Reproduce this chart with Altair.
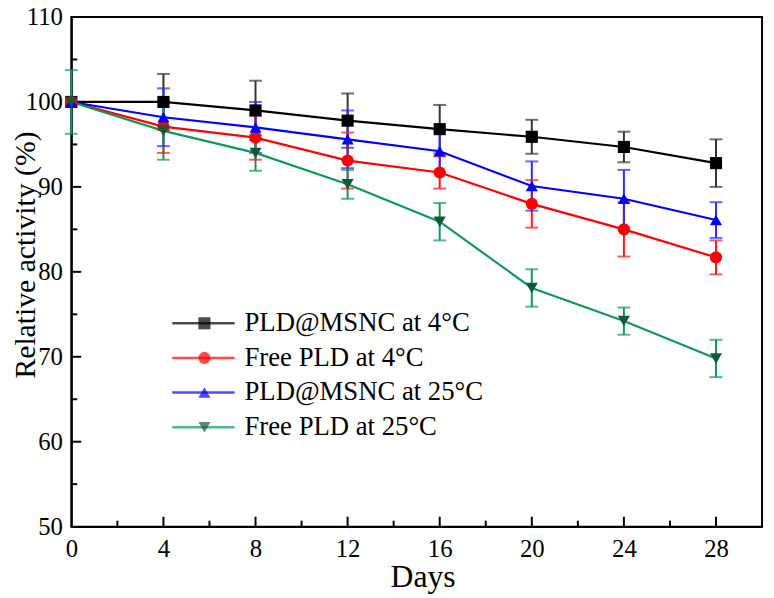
import altair as alt
import pandas as pd

# ---------------- data ----------------
days = [0, 4, 8, 12, 16, 20, 24, 28]
series = ["PLD@MSNC at 4°C", "Free PLD at 4°C", "PLD@MSNC at 25°C", "Free PLD at 25°C"]

msnc_4 = [100.0, 100.0, 99.0, 97.8, 96.8, 95.9, 94.7, 92.8]
msnc_4_err = [0.0, 3.3, 3.5, 3.2, 2.85, 2.0, 1.8, 2.8]
free_4 = [100.0, 97.1, 95.8, 93.1, 91.7, 88.0, 85.0, 81.7]
free_4_err = [0.0, 3.1, 2.6, 3.3, 1.9, 2.8, 3.2, 2.0]
msnc_25 = [100.0, 98.2, 97.0, 95.6, 94.2, 90.1, 88.6, 86.1]
msnc_25_err = [0.0, 3.4, 3.0, 3.4, 2.5, 2.9, 3.4, 2.1]
free_25 = [100.0, 96.6, 94.0, 90.3, 85.9, 78.1, 74.2, 69.8]
free_25_err = [3.75, 3.4, 2.1, 1.7, 2.2, 2.2, 1.6, 2.2]

x_labels = [0, 4, 8, 12, 16, 20, 24, 28]
x_minor = [2, 6, 10, 14, 18, 22, 26]
y_labels = [50, 60, 70, 80, 90, 100, 110]
y_major_inner = [60, 70, 80, 90, 100]
y_minor = [55, 65, 75, 85, 95, 105]

line_colors = ["#000000", "#ff0000", "#0000ff", "#10985a"]
marker_colors = ["#000000", "#ff0000", "#0000ff", "#14583a"]
err_colors = ["#333333", "#ff1a1a", "#2a2aff", "#10985a"]
shapes = ["square", "circle", "triangle-up", "triangle-down"]

# ---------------- table ----------------
vals = [msnc_4, free_4, msnc_25, free_25]
errs = [msnc_4_err, free_4_err, msnc_25_err, free_25_err]
rows = []
for name, v, e in zip(series, vals, errs):
    for d, yv, ev in zip(days, v, e):
        rows.append({"series": name, "day": d, "val": yv, "err": ev,
                     "lo": yv - ev, "hi": yv + ev})
df = pd.DataFrame(rows)
df_err = df[df["err"] > 0]

FONT = "Liberation Serif"
W, H = 698, 515

xs = alt.Scale(domain=[0, 30], nice=False, zero=False)
ys = alt.Scale(domain=[50, 110], nice=False, zero=False)

xaxis = alt.Axis(values=x_labels, ticks=False, grid=False, domainColor="black",
                 domainWidth=2, labelFont=FONT, labelFontSize=25, labelColor="black",
                 labelPadding=10, title="Days", titleFont=FONT, titleFontSize=32,
                 titleFontWeight="normal", titleColor="black",
                 titleBaseline="alphabetic", titleX=355, titleY=61,
                 labelFlush=False)
yaxis = alt.Axis(values=y_labels, ticks=False, grid=False, domainColor="black",
                 domainWidth=2, labelFont=FONT, labelFontSize=25, labelColor="black",
                 labelPadding=9, title="Relative activity (%)", titleFont=FONT,
                 titleFontSize=30, titleFontWeight="normal", titleColor="black",
                 titleBaseline="middle", titleAngle=270, titleX=-46, titleY=240,
                 labelFlush=False)

X = alt.X("day:Q", scale=xs, axis=xaxis)


def cscale(colors):
    return alt.Scale(domain=series, range=colors)


bars = alt.Chart(df_err).mark_rule(strokeWidth=2).encode(
    x=X, y=alt.Y("lo:Q", scale=ys, axis=yaxis), y2="hi:Q",
    color=alt.Color("series:N", scale=cscale(err_colors), legend=None))
cap_lo = alt.Chart(df_err).mark_tick(orient="horizontal", size=13, thickness=2).encode(
    x=X, y=alt.Y("lo:Q", scale=ys, axis=yaxis),
    color=alt.Color("series:N", scale=cscale(err_colors), legend=None))
cap_hi = alt.Chart(df_err).mark_tick(orient="horizontal", size=13, thickness=2).encode(
    x=X, y=alt.Y("hi:Q", scale=ys, axis=yaxis),
    color=alt.Color("series:N", scale=cscale(err_colors), legend=None))

lines = alt.Chart(df).mark_line(strokeWidth=2.2).encode(
    x=X, y=alt.Y("val:Q", scale=ys, axis=yaxis),
    color=alt.Color("series:N", scale=cscale(line_colors), legend=None))

points = alt.Chart(df).mark_point(filled=True, size=150, opacity=1).encode(
    x=X, y=alt.Y("val:Q", scale=ys, axis=yaxis),
    color=alt.Color("series:N", scale=cscale(marker_colors), legend=None),
    shape=alt.Shape("series:N", scale=alt.Scale(domain=series, range=shapes), legend=None))

# legend: line part + marker part, overlaid
LX, LY = 94, 296
line_path = "M-6.3,-0.25H6.3V0.25H-6.3Z"
leg_common = dict(orient="none", legendX=LX, legendY=LY, title=None, padding=0,
                  labelFont=FONT, labelFontSize=27, rowPadding=7, labelLimit=400,
                  labelOffset=28)
leg_lines = alt.Chart(df).transform_filter("false").mark_point(filled=True, size=100).encode(
    color=alt.Color("series:N", scale=cscale(line_colors),
                    legend=alt.Legend(symbolType=line_path, symbolSize=100,
                                      symbolOffset=26, labelColor="black", **leg_common)))
leg_marks = alt.Chart(df).transform_filter("false").mark_point(filled=True, size=150).encode(
    color=alt.Color("series:N", scale=cscale(marker_colors),
                    legend=alt.Legend(symbolSize=150, symbolOffset=27, labelOpacity=0,
                                      **leg_common)),
    shape=alt.Shape("series:N", scale=alt.Scale(domain=series, range=shapes),
                    legend=alt.Legend(symbolSize=150, symbolOffset=27, labelOpacity=0,
                                      **leg_common)))

# inward ticks
ymaj = alt.Chart(pd.DataFrame({"v": y_major_inner})).mark_rule(color="black", strokeWidth=2).encode(
    y=alt.Y("v:Q", scale=ys, axis=yaxis), x=alt.value(0), x2=alt.value(10))
ymin = alt.Chart(pd.DataFrame({"v": y_minor})).mark_rule(color="black", strokeWidth=2).encode(
    y=alt.Y("v:Q", scale=ys, axis=yaxis), x=alt.value(0), x2=alt.value(6))
xmaj = alt.Chart(pd.DataFrame({"v": x_labels[1:]})).mark_rule(color="black", strokeWidth=2).encode(
    x=alt.X("v:Q", scale=xs, axis=xaxis), y=alt.value(H), y2=alt.value(H - 10))
xmin = alt.Chart(pd.DataFrame({"v": x_minor})).mark_rule(color="black", strokeWidth=2).encode(
    x=alt.X("v:Q", scale=xs, axis=xaxis), y=alt.value(H), y2=alt.value(H - 6))

chart = alt.layer(
    ymaj, ymin, xmaj, xmin, bars, cap_lo, cap_hi, lines, points, leg_lines, leg_marks
).resolve_scale(
    color="independent", shape="independent"
).properties(
    width=W, height=H,
    autosize=alt.AutoSizeParams(type="none"),
    padding={"left": 64, "top": 6, "right": 4, "bottom": 69},
    background="white",
).configure(
    font=FONT
).configure_axis(
    labelFont=FONT, titleFont=FONT
).configure_legend(
    labelFont=FONT
).configure_view(
    stroke="black", strokeWidth=2
)

chart.save("out.html", embed_options={"renderer": "svg", "actions": False})
